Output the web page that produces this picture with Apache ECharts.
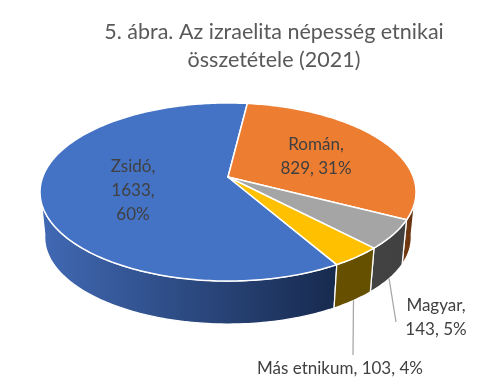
<!DOCTYPE html>
<html><head><meta charset="utf-8">
<style>html,body{margin:0;padding:0;background:#fff}#c{width:483px;height:388px}</style>
<script src="https://cdn.jsdelivr.net/npm/echarts@6/dist/echarts.min.js"></script>
</head><body><div id="c"></div>
<script>
const titleText = '5. ábra. Az izraelita népesség etnikai\nösszetétele (2021)';
const categories = ['Zsidó', 'Román', 'Magyar', 'Más etnikum'];
const values = [1633, 829, 143, 103];
const topColors = ['#4472C4', '#ED7D31', '#A5A5A5', '#FFC000'];
const sideColors = [['#4169B4', '#172A4E'], ['#7A3D12', '#5E2E0E'], ['#434343', '#404040'], ['#675000', '#645000']];
const labelBreaks = [[',\n', ',\n'], [',\n', ', '], [',\n', ', '], [', ', ', ']];
const labelPos = [[133, 191], [316, 157], [436, 318], [340, 369]];
const leaderEnds = [null, null, [396, 322], [353, 355]];

// Projection of the tilted disc
const CX = 228, CY = 177, A = 185.3, B = 86.5, K = -0.1685, START = 149.9;
const DEPTH = 45.6, BOTTOM_SCALE = 0.975, FRONT_FROM = 98, FRONT_TO = 262;
const total = values.reduce((a, b) => a + b, 0);
const starts = []; { let s = START; values.forEach(v => { starts.push(s); s += v / total * 360; }); }
function rim(deg, bottom) {
  const r = deg * Math.PI / 180, u = Math.sin(r), v = -Math.cos(r), d = 1 + K * v;
  const s = bottom ? BOTTOM_SCALE : 1;
  return [CX + A * u / d * s, CY + B * v / d * s + (bottom ? DEPTH : 0)];
}
function arc(a0, a1, bottom) {
  const n = Math.max(2, Math.ceil(a1 - a0)), pts = [];
  for (let i = 0; i <= n; i++) pts.push(rim(a0 + (a1 - a0) * i / n, bottom));
  return pts;
}
const sweep = i => values[i] / total * 360;
const seriesData = values.map((v, i) => ({ name: categories[i], value: v }));

function sideItem(p, api) {
  const i = p.dataIndex;
  const a0 = Math.max(starts[i] % 360, FRONT_FROM), a1 = Math.min(starts[i] % 360 + sweep(i), FRONT_TO);
  const pts = arc(a0, a1, false).concat(arc(a0, a1, true).reverse());
  return { type: 'polygon', shape: { points: pts }, style: {
    fill: new echarts.graphic.LinearGradient(0, 0, 1, 0, [
      { offset: 0, color: sideColors[i][0] }, { offset: 1, color: sideColors[i][1] }]),
    stroke: '#fff', lineWidth: 1.25 } };
}
function topItem(p, api) {
  const i = p.dataIndex, a0 = starts[i], a1 = a0 + sweep(i);
  const pts = [[CX, CY]].concat(arc(a0, a1, false));
  return { type: 'polygon', shape: { points: pts }, style: { fill: topColors[i], stroke: '#fff', lineWidth: 1.5, lineJoin: 'round' } };
}
function labelItem(p, api) {
  const i = p.dataIndex, pct = Math.round(values[i] / total * 100) + '%';
  const text = categories[i] + labelBreaks[i][0] + values[i] + labelBreaks[i][1] + pct;
  const children = [];
  if (leaderEnds[i]) {
    const s = rim(starts[i] + sweep(i) / 2, true), e = leaderEnds[i];
    children.push({ type: 'line', shape: { x1: s[0], y1: s[1], x2: e[0], y2: e[1] }, style: { stroke: '#A6A6A6', lineWidth: 1.25 } });
  }
  children.push({ type: 'text', x: labelPos[i][0], y: labelPos[i][1], style: {
    text, fill: '#404040', font: '17px Lato', align: 'center', verticalAlign: 'middle', lineHeight: 24 } });
  return { type: 'group', children };
}
const chart = echarts.init(document.getElementById('c'), null, { renderer: 'canvas' });
chart.setOption({
  animation: false,
  backgroundColor: '#fff',
  title: { text: titleText, left: 269, top: 13.5, textAlign: 'center',
    textStyle: { fontFamily: 'Lato', fontSize: 21.5, fontWeight: 'normal', color: '#595959', lineHeight: 28 } },
  series: [
    { type: 'custom', coordinateSystem: 'none', renderItem: sideItem, data: seriesData, silent: true, z: 1 },
    { type: 'custom', coordinateSystem: 'none', renderItem: topItem, data: seriesData, silent: true, z: 2 },
    { type: 'custom', coordinateSystem: 'none', renderItem: labelItem, data: seriesData, silent: true, z: 3 }
  ]
});
</script></body></html>
